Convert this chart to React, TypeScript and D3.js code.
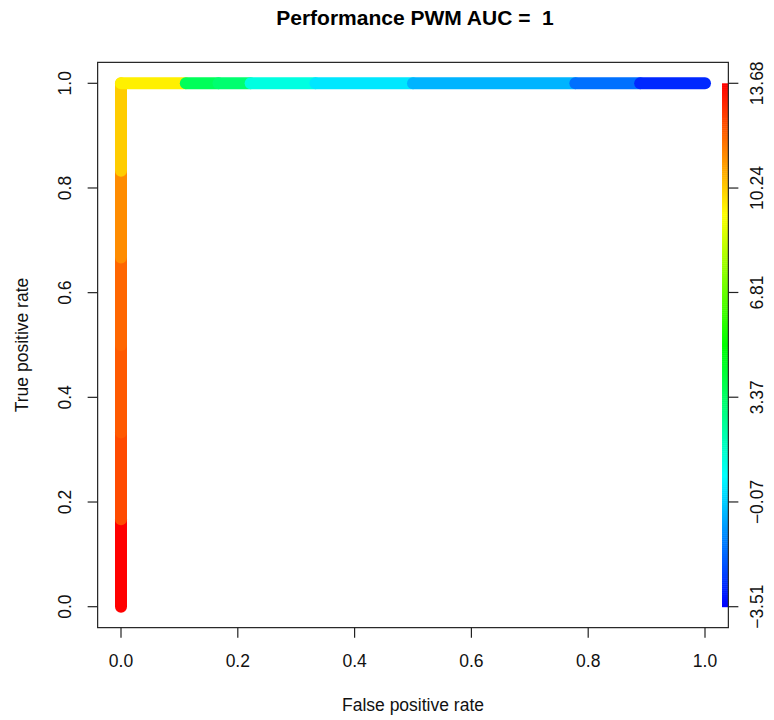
import React from "react";
import * as d3 from "d3";

const fprPoints = [0, 0, 0, 0, 0, 0, 0, 0.111, 0.167, 0.222, 0.333, 0.5, 0.778, 0.889, 1.0];
const tprPoints = [0, 0.167, 0.333, 0.5, 0.667, 0.833, 1, 1, 1, 1, 1, 1, 1, 1, 1];
const segmentCutoffs = [13.68, 12.43, 12.18, 11.96, 11.32, 10.24, 9.63, 3.58, 3.22, 1.29, 0.39, -0.47, -1.62, -2.84];
const axisTicks = [0, 0.2, 0.4, 0.6, 0.8, 1.0];
const colorTickLabels = ["-3.51", "-0.07", "3.37", "6.81", "10.24", "13.68"];
const cutoffMin = -3.51;
const cutoffMax = 13.68;

const W = 774;
const H = 720;
const FONT = "'Liberation Sans', Arial, Helvetica, sans-serif";

export default function App() {
  const x = d3.scaleLinear().domain([0, 1]).range([121, 705]);
  const y = d3.scaleLinear().domain([0, 1]).range([606.7, 83.3]);
  const boxL = x(-0.04), boxR = x(1.04), boxT = y(1.04), boxB = y(-0.04);
  const hue = (c: number) => 240 * (1 - (c - cutoffMin) / (cutoffMax - cutoffMin));
  const color = (c: number) => d3.hsl(hue(c), 1, 0.5).formatHex();
  const cy = d3.scaleLinear().domain([cutoffMin, cutoffMax]).range([y(0), y(1)]);
  const nCol = 256;
  const barLevels = d3.range(nCol).map((i) => cutoffMin + ((i + 0.5) / nCol) * (cutoffMax - cutoffMin));
  const step = (cutoffMax - cutoffMin) / nCol;
  const tickVals = colorTickLabels.map((s) => parseFloat(s));
  const fmt = d3.format(".1f");

  return (
    <svg width={W} height={H} style={{ position: "absolute", left: 0, top: 0, background: "#fff" }} fontFamily={FONT}>
      <text x={(boxL + boxR) / 2 + 2} y={25} textAnchor="middle" fontSize={21} fontWeight="bold" xmlSpace="preserve" style={{ whiteSpace: "pre" }}>
        {"Performance PWM AUC =  1"}
      </text>
      {segmentCutoffs.map((c, i) => (
        <line
          key={i}
          x1={x(fprPoints[i])}
          y1={y(tprPoints[i])}
          x2={x(fprPoints[i + 1])}
          y2={y(tprPoints[i + 1])}
          stroke={color(c)}
          strokeWidth={12}
          strokeLinecap="round"
        />
      ))}
      {barLevels.map((c, i) => (
        <rect key={i} x={722} width={6} y={cy(c + step / 2)} height={cy(c - step / 2) - cy(c + step / 2) + 0.5} fill={color(c)} />
      ))}
      <rect x={boxL} y={boxT} width={boxR - boxL} height={boxB - boxT} fill="none" stroke="#222" strokeWidth={1.2} />
      {axisTicks.map((t) => (
        <g key={"x" + t}>
          <line x1={x(t)} x2={x(t)} y1={boxB} y2={boxB + 10} stroke="#222" strokeWidth={1.2} />
          <text x={x(t)} y={667} textAnchor="middle" fontSize={17.5} fill="#111">{fmt(t)}</text>
        </g>
      ))}
      {axisTicks.map((t) => (
        <g key={"y" + t}>
          <line x1={boxL} x2={boxL - 10} y1={y(t)} y2={y(t)} stroke="#222" strokeWidth={1.2} />
          <text transform={`translate(71,${y(t)}) rotate(-90)`} textAnchor="middle" fontSize={17.5} fill="#111">{fmt(t)}</text>
        </g>
      ))}
      {tickVals.map((v, i) => (
        <g key={"c" + i}>
          <line x1={boxR} x2={boxR + 10} y1={cy(v)} y2={cy(v)} stroke="#222" strokeWidth={1.2} />
          <text transform={`translate(763,${cy(v)}) rotate(-90)`} textAnchor="middle" fontSize={17.5} fill="#111">
            {colorTickLabels[i].replace("-", "\u2212")}
          </text>
        </g>
      ))}
      <text x={(boxL + boxR) / 2} y={711} textAnchor="middle" fontSize={17.5} fill="#111">False positive rate</text>
      <text transform={`translate(28,${(boxT + boxB) / 2}) rotate(-90)`} textAnchor="middle" fontSize={17.5} fill="#111">
        True positive rate
      </text>
    </svg>
  );
}
